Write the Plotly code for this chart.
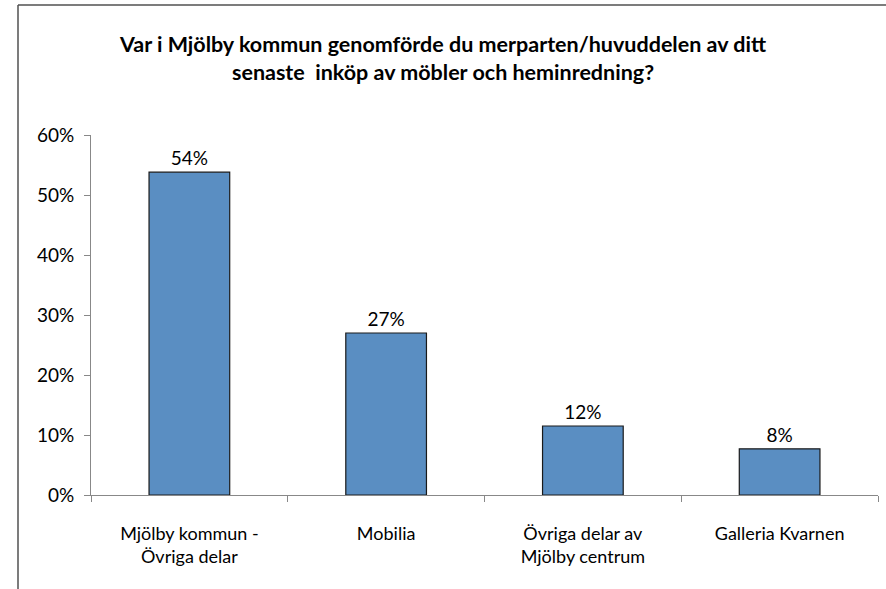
import plotly.graph_objects as go

categories = ["Mjölby kommun -<br>Övriga delar", "Mobilia", "Övriga delar av<br>Mjölby centrum", "Galleria Kvarnen"]
values = [0.538, 0.270, 0.115, 0.077]
y_ticks = [0, 0.1, 0.2, 0.3, 0.4, 0.5, 0.6]
y_tick_labels = ["0%", "10%", "20%", "30%", "40%", "50%", "60%"]
title = "Var i Mjölby kommun genomförde du merparten/huvuddelen av ditt<br>senaste  inköp av möbler och heminredning?"

W, H = 886, 589
ml, mr, mt, mb = 91, 8, 135, 94
pw, ph = W - ml - mr, H - mt - mb

def px_x(x):
    return (x - ml) / pw

def px_y(y):
    return 1 - (y - mt) / ph

FONT = "Lato"

fig = go.Figure(go.Bar(
    x=categories, y=values,
    marker=dict(color="#5A8EC2", line=dict(color="#1a1a1a", width=1.2)),
    width=0.41,
    texttemplate="%{y:.0%}", textposition="outside",
    textfont=dict(family=FONT, size=19, color="#000000"),
    cliponaxis=False,
))

fig.update_layout(
    width=W, height=H,
    margin=dict(l=ml, r=mr, t=mt, b=mb),
    paper_bgcolor="white", plot_bgcolor="white",
    showlegend=False,
    title=dict(text="<b>" + title + "</b>", x=0.5, xref="container", xanchor="center",
               y=1 - 52 / H, yanchor="top",
               font=dict(family=FONT, size=21.5, color="#000000")),
    font=dict(family=FONT, size=18, color="#000000"),
    shapes=[
        dict(type="line", xref="paper", yref="paper", x0=px_x(18), x1=px_x(18), y0=px_y(600), y1=px_y(5),
             line=dict(color="#505050", width=1.5)),
        dict(type="line", xref="paper", yref="paper", x0=px_x(18), x1=px_x(900), y0=px_y(5), y1=px_y(5),
             line=dict(color="#505050", width=1.5)),
    ],
)

fig.update_yaxes(
    range=[0, 0.6], tickvals=y_ticks, ticktext=y_tick_labels,
    showgrid=False, zeroline=False,
    showline=True, linecolor="#888888", linewidth=1,
    ticks="outside", ticklen=6, tickcolor="#888888", ticklabelstandoff=6,
    tickfont=dict(family=FONT, size=19, color="#000000"),
)
fig.update_xaxes(
    showgrid=False, showline=True, linecolor="#888888", linewidth=1,
    ticks="outside", ticklen=6, tickcolor="#888888", tickson="boundaries",
    ticklabelstandoff=22,
    tickfont=dict(family=FONT, size=18, color="#000000"),
)

fig.write_html("out.html", config={"displayModeBar": False},
               post_script="document.body.style.margin='0px';")
